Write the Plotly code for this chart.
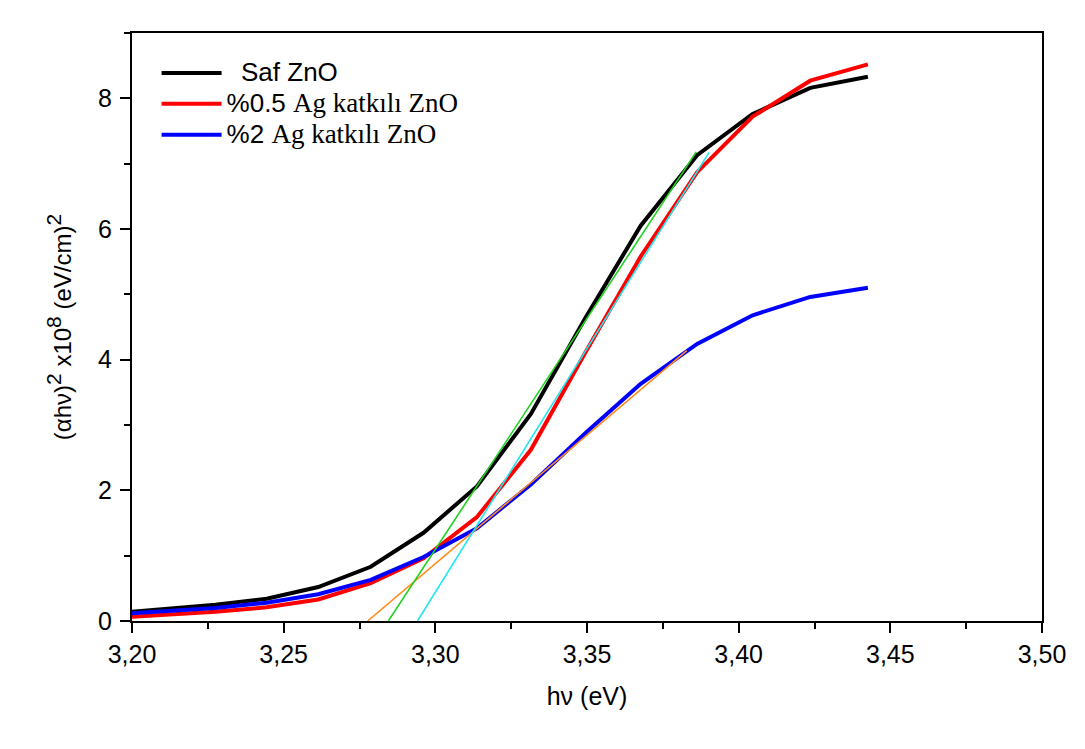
import plotly.graph_objects as go

# photon energy (eV)
energy = [3.1942, 3.2108, 3.2275, 3.2444, 3.2614, 3.2787, 3.2961, 3.3137,
          3.3315, 3.3496, 3.3677, 3.3863, 3.4046, 3.4236, 3.4426]

# (alpha h nu)^2 x 1e8 (eV/cm)^2
saf_zno = [0.12, 0.18, 0.25, 0.34, 0.52, 0.83, 1.35, 2.06,
           3.17, 4.65, 6.05, 7.13, 7.76, 8.16, 8.33]
ag05_zno = [0.05, 0.09, 0.14, 0.21, 0.33, 0.58, 0.96, 1.59,
            2.62, 4.12, 5.58, 6.87, 7.72, 8.27, 8.52]
ag2_zno = [0.10, 0.15, 0.20, 0.28, 0.41, 0.63, 0.98, 1.42,
           2.09, 2.88, 3.63, 4.24, 4.68, 4.96, 5.10]

# linear (Tauc) fit lines: endpoints
fit_saf_x = [3.2845, 3.3860]
fit_saf_y = [0.0, 7.18]
fit_ag05_x = [3.2941, 3.3902]
fit_ag05_y = [0.0, 7.17]
fit_ag2_x = [3.2777, 3.3829]
fit_ag2_y = [0.0, 4.14]

SERIF = "font-family:'Liberation Serif','Times New Roman',serif"
BIG = "font-size:26px"
series_names = [
    f'<span style="{BIG}">&nbsp; Saf ZnO</span>',
    f'<span style="{BIG}">%0.5 <span style="{SERIF};font-size:27px">Ag katkılı ZnO</span></span>',
    f'<span style="{BIG}">%2 <span style="{SERIF};font-size:27px">Ag katkılı ZnO</span></span>',
]

fig = go.Figure()

for i, (vals, col) in enumerate([(saf_zno, "#000000"), (ag05_zno, "#ff0000"), (ag2_zno, "#0000ff")]):
    fig.add_trace(go.Scatter(x=energy, y=vals, mode="lines", name=series_names[i],
                             legendrank=i + 1,
                             line=dict(color=col, width=4)))

# fit lines (thin, on top)
for fx, fy, col in [(fit_ag2_x, fit_ag2_y, "#ff8c1a"),
                    (fit_saf_x, fit_saf_y, "#1ed21e"),
                    (fit_ag05_x, fit_ag05_y, "#22e5f0")]:
    fig.add_trace(go.Scatter(x=fx, y=fy, mode="lines", showlegend=False,
                             line=dict(color=col, width=1.6), hoverinfo="skip"))

SANS = "Liberation Sans, Arial, sans-serif"
axis_font = dict(family=SANS, size=25, color="black")
sup = lambda s: f'<sup><span style="font-size:21px">{s}</span></sup>'

fig.update_layout(
    width=1077, height=741,
    margin=dict(l=124, r=43, t=25, b=128),
    paper_bgcolor="white", plot_bgcolor="white",
    separators=",.",
    font=axis_font,
    showlegend=True,
    legend=dict(x=0.027, y=0.967, xanchor="left", yanchor="top",
                bgcolor="rgba(0,0,0,0)", borderwidth=0,
                font=dict(family=SANS, size=21.5, color="black"),
                tracegroupgap=0, itemwidth=60),
    xaxis=dict(
        range=[3.20, 3.50], dtick=0.05, tick0=3.20, tickformat=".2f",
        showgrid=False, zeroline=False,
        showline=True, linecolor="black", linewidth=2, mirror=True,
        ticks="outside", ticklen=10, tickwidth=2, tickcolor="black",
        minor=dict(ticks="outside", ticklen=6, tickwidth=2, tickcolor="black", dtick=0.025),
        tickfont=axis_font,
        title=dict(text="hν (eV)", font=dict(family=SANS, size=25), standoff=20),
    ),
    yaxis=dict(
        range=[0, 9], dtick=2, tick0=0,
        showgrid=False, zeroline=False,
        showline=True, linecolor="black", linewidth=2, mirror=True,
        ticks="outside", ticklen=10, tickwidth=2, tickcolor="black",
        ticklabelstandoff=3,
        minor=dict(ticks="outside", ticklen=6, tickwidth=2, tickcolor="black", dtick=1),
        tickfont=axis_font,
        title=dict(text=f"(αhν){sup(2)} x10{sup(8)} (eV/cm){sup(2)}",
                   font=dict(family=SANS, size=24), standoff=20),
    ),
)

fig.write_html("out.html")
